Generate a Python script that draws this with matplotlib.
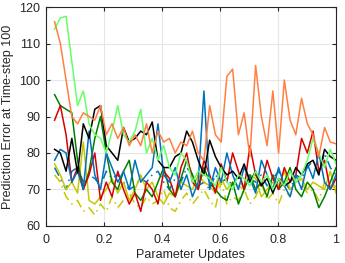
import matplotlib
matplotlib.use("Agg")
import matplotlib.pyplot as plt
import numpy as np

plt.rcParams["font.family"] = ["Liberation Sans", "DejaVu Sans"]

# parameter updates (normalised), 50 samples per run
updates = np.linspace(0.03, 1.0, 50)

orange = [116, 110, 100, 90, 88, 91, 90, 89, 93, 85, 88, 84, 87, 82, 85, 82, 88, 80, 86, 83,
          84, 80, 83, 82, 86, 80, 78, 93, 85, 83, 101, 103, 85, 91, 79, 104, 90, 82, 97, 80,
          100, 89, 85, 95, 88, 85, 79, 87, 83, 82.5]
light_green = [114, 117, 117.5, 105, 93, 97, 88, 85, 84, 80, 86, 93, 85, 83, 86, 92, 80, 84, 78, 82,
               76, 74, 80, 78, 72, 75, 74, 73, 71, 76, 72, 70, 74, 73, 71, 75, 72, 74, 70, 73,
               71, 75, 72, 74, 78, 84, 80, 76, 81, 77]
black = [81, 80, 75, 84, 74.5, 88, 84, 92, 93, 82, 80, 78, 87, 83, 84, 86, 85, 88.5, 78, 76,
         76, 79, 80, 86, 83, 78, 74, 83.5, 79, 76, 74, 75, 73, 77, 72, 75, 71, 73, 69, 73,
         71, 72, 76, 74, 77, 78, 74, 81, 79, 78]
red = [89, 93, 85, 72, 76, 70, 74, 80, 67, 72, 68, 75, 70, 66, 69, 64, 72, 70, 66, 75,
       73, 68, 76, 80, 72, 70, 78, 74, 69, 77, 72, 80, 75, 70, 82, 74, 71, 78, 73, 70,
       76, 72, 74, 84, 80, 86, 75, 78, 70, 73]
dark_green = [96, 93, 92, 91, 78, 70, 75, 84, 90, 80, 72, 70, 75, 78, 69, 67, 70, 68, 72, 76,
              70, 68, 73, 78, 74, 70, 76, 72, 70, 68, 67, 72, 66, 70, 74, 70, 72, 68, 74, 70,
              72, 76, 70, 68, 72, 70, 65, 68, 72, 76]
blue = [78, 81, 80, 72, 75, 70, 86, 74, 70, 80, 76, 72, 75, 70, 78, 72, 74, 76, 88, 74,
        72, 76, 70, 74, 68, 72, 97, 70, 76, 72, 80, 74, 70, 76, 73, 69, 78, 74, 70, 76,
        71, 68, 74, 70, 77, 73, 80, 72, 70, 74]
blue_dashed = [76, 73, 70, 75, 76, 72, 74, 73, 71, 75, 73, 74, 72, 70, 71, 73, 72, 74, 75, 72,
               70, 73, 72, 76, 74, 71, 72, 70, 74, 72, 73, 71, 74, 70, 73, 72, 74, 71, 73, 75,
               72, 70, 74, 73, 76, 78, 74, 80, 76, 74]
yellow = [77, 74, 70, 72, 69, 83, 67, 66, 68, 70, 73, 69, 72, 67, 70, 74, 70, 72, 68, 66,
          69, 68, 72, 71, 70, 74, 72, 71, 69, 73, 70, 72, 71, 70, 74, 73, 68, 70, 72, 71,
          75, 70, 72, 73, 70, 72, 71, 70, 75, 69]
yellow_dashed = [74, 72, 68, 66, 67, 64, 65, 63, 66, 64, 68, 65, 67, 69, 66, 65, 68, 66, 67, 70,
                 65, 64, 67, 69, 66, 68, 70, 67, 65, 72, 66, 68, 67, 70, 66, 68, 72, 67, 69, 66,
                 70, 68, 74, 72, 69, 70, 67, 72, 70, 71]

series = [
    (yellow_dashed, "#c8c800", (0, (6, 3, 1, 3))),
    (blue_dashed, "#0072bd", (0, (6, 3, 1, 3))),
    (yellow, "#c8c800", "-"),
    (dark_green, "#008000", "-"),
    (red, "#d90000", "-"),
    (blue, "#0072bd", "-"),
    (black, "#000000", "-"),
    (light_green, "#66ff66", "-"),
    (orange, "#ff8040", "-"),
]

fig = plt.figure(figsize=(3.45, 2.63), dpi=100)
ax = fig.add_axes([0.133, 0.141, 0.841, 0.832])

for values, color, style in series:
    ax.plot(updates, values, color=color, linestyle=style, linewidth=1.1)

ax.set_xlim(0, 1)
ax.set_ylim(60, 120)
ax.set_xticks([0, 0.2, 0.4, 0.6, 0.8, 1])
ax.set_xticklabels(["0", "0.2", "0.4", "0.6", "0.8", "1"])
ax.set_yticks(range(60, 121, 10))
ax.grid(True, color="#e6e6e6", linewidth=0.8)
ax.set_axisbelow(True)
ax.tick_params(direction="in", top=True, right=True, labelsize=9, length=3,
               color="#262626", labelcolor="#262626")
ax.tick_params(axis="x", pad=6)
ax.tick_params(axis="y", pad=4)
for spine in ax.spines.values():
    spine.set_color("#262626")
    spine.set_linewidth(0.8)
ax.set_xlabel("Parameter Updates", fontsize=9, color="#262626", labelpad=2)
ax.set_ylabel("Prediction Error at Time-step 100", fontsize=9, color="#262626", labelpad=4)

fig.savefig("out.png", dpi=100)
